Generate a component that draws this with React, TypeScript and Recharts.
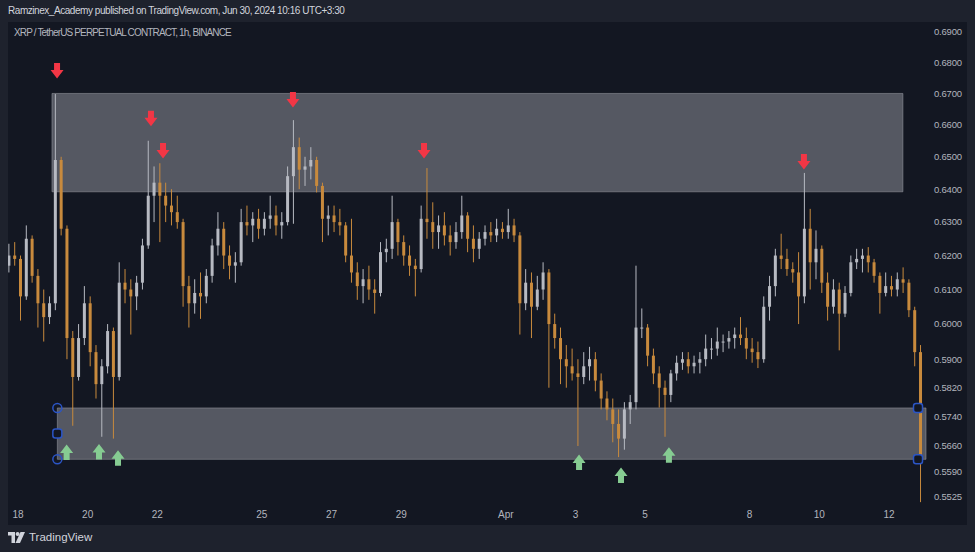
import React from 'react'
import {
  ComposedChart, Bar, XAxis, YAxis, ReferenceArea, ReferenceDot,
} from 'recharts'

// XRPUSDT perp, read off the 1h chart and grouped into 4h candles
// first candle starts Mar 17 16:00, hour 0 = Mar 18 00:00
const firstOpen = 0.617
const highs = [
  0.6235, 0.6240, 0.6200, 0.6290, 0.6260, 0.6160, 0.6100, 0.6080, 0.6698, 0.6500,
  0.6290, 0.5980, 0.6000, 0.6110, 0.6080, 0.5940, 0.5900, 0.6000, 0.5990, 0.6180,
  0.6160, 0.6130, 0.6140, 0.6250, 0.6550, 0.6470, 0.6480, 0.6420, 0.6400, 0.6380,
  0.6310, 0.6140, 0.6130, 0.6150, 0.6160, 0.6250, 0.6330, 0.6300, 0.6230, 0.6210,
  0.6340, 0.6350, 0.6330, 0.6340, 0.6330, 0.6380, 0.6350, 0.6330, 0.6470, 0.6615,
  0.6560, 0.6500, 0.6530, 0.6500, 0.6420, 0.6350, 0.6350, 0.6340, 0.6300, 0.6310,
  0.6180, 0.6160, 0.6170, 0.6130, 0.6240, 0.6250, 0.6380, 0.6310, 0.6260, 0.6230,
  0.6190, 0.6350, 0.6465, 0.6360, 0.6320, 0.6330, 0.6290, 0.6300, 0.6380, 0.6330,
  0.6290, 0.6270, 0.6290, 0.6300, 0.6310, 0.6300, 0.6340, 0.6310, 0.6270, 0.6160,
  0.6150, 0.6140, 0.6180, 0.6160, 0.6030, 0.5990, 0.5940, 0.5930, 0.5900, 0.5920,
  0.5935, 0.5920, 0.5860, 0.5810, 0.5790, 0.5760, 0.5780, 0.5800, 0.6170, 0.6045,
  0.6000, 0.5930, 0.5880, 0.5840, 0.5870, 0.5910, 0.5920, 0.5920, 0.5910, 0.5920,
  0.5970, 0.5960, 0.5990, 0.5970, 0.5980, 0.5990, 0.6020, 0.5990, 0.5960, 0.5950,
  0.6080, 0.6140, 0.6220, 0.6265, 0.6220, 0.6180, 0.6210, 0.6450, 0.6340, 0.6275,
  0.6230, 0.6150, 0.6130, 0.6120, 0.6110, 0.6200, 0.6220, 0.6220, 0.6225, 0.6190,
  0.6150, 0.6150, 0.6140, 0.6150, 0.6165, 0.6130, 0.6050, 0.5940,
]
const lows = [
  0.6150, 0.6170, 0.6010, 0.6070, 0.6120, 0.5990, 0.5950, 0.6000, 0.6040, 0.6260,
  0.5900, 0.5715, 0.5840, 0.5940, 0.5880, 0.5790, 0.5685, 0.5860, 0.5680, 0.5840,
  0.6060, 0.5970, 0.6040, 0.6100, 0.6220, 0.6300, 0.6240, 0.6300, 0.6290, 0.6280,
  0.6050, 0.5990, 0.6030, 0.6015, 0.6060, 0.6120, 0.6200, 0.6160, 0.6130, 0.6120,
  0.6170, 0.6260, 0.6240, 0.6250, 0.6260, 0.6280, 0.6260, 0.6250, 0.6290, 0.6295,
  0.6400, 0.6410, 0.6430, 0.6390, 0.6240, 0.6260, 0.6270, 0.6260, 0.6180, 0.6120,
  0.6070, 0.6060, 0.6070, 0.6030, 0.6080, 0.6180, 0.6190, 0.6200, 0.6170, 0.6140,
  0.6080, 0.6150, 0.6250, 0.6220, 0.6220, 0.6230, 0.6200, 0.6220, 0.6250, 0.6210,
  0.6180, 0.6190, 0.6230, 0.6240, 0.6240, 0.6250, 0.6250, 0.6240, 0.5970, 0.6040,
  0.5960, 0.6040, 0.6070, 0.5820, 0.5930, 0.5830, 0.5820, 0.5840, 0.5660, 0.5830,
  0.5840, 0.5810, 0.5760, 0.5730, 0.5670, 0.5630, 0.5650, 0.5720, 0.5760, 0.5960,
  0.5880, 0.5830, 0.5765, 0.5685, 0.5780, 0.5840, 0.5870, 0.5860, 0.5860, 0.5860,
  0.5880, 0.5900, 0.5910, 0.5920, 0.5930, 0.5930, 0.5940, 0.5900, 0.5890, 0.5875,
  0.5890, 0.6010, 0.6080, 0.6160, 0.6140, 0.6120, 0.6000, 0.6060, 0.6100, 0.6130,
  0.6090, 0.6010, 0.6030, 0.5925, 0.6020, 0.6080, 0.6160, 0.6150, 0.6150, 0.6120,
  0.6030, 0.6080, 0.6080, 0.6080, 0.6090, 0.6020, 0.5880, 0.5510,
]
const closes = [
  0.6200, 0.6190, 0.6080, 0.6250, 0.6140, 0.6060, 0.6020, 0.6060, 0.6490, 0.6280,
  0.5960, 0.5850, 0.5960, 0.6060, 0.5920, 0.5830, 0.5880, 0.5980, 0.5850, 0.6120,
  0.6100, 0.6080, 0.6120, 0.6230, 0.6380, 0.6420, 0.6380, 0.6350, 0.6330, 0.6300,
  0.6110, 0.6060, 0.6090, 0.6080, 0.6140, 0.6230, 0.6280, 0.6200, 0.6170, 0.6180,
  0.6300, 0.6290, 0.6310, 0.6280, 0.6310, 0.6320, 0.6290, 0.6300, 0.6440, 0.6530,
  0.6460, 0.6470, 0.6490, 0.6410, 0.6310, 0.6320, 0.6300, 0.6290, 0.6200, 0.6150,
  0.6110, 0.6130, 0.6100, 0.6090, 0.6210, 0.6220, 0.6300, 0.6240, 0.6200, 0.6170,
  0.6160, 0.6310, 0.6300, 0.6270, 0.6290, 0.6260, 0.6240, 0.6270, 0.6320, 0.6250,
  0.6220, 0.6250, 0.6270, 0.6260, 0.6280, 0.6270, 0.6290, 0.6260, 0.6060, 0.6120,
  0.6050, 0.6100, 0.6150, 0.6000, 0.5960, 0.5900, 0.5880, 0.5860, 0.5850, 0.5880,
  0.5900, 0.5840, 0.5790, 0.5760, 0.5720, 0.5680, 0.5760, 0.5780, 0.5990, 0.5990,
  0.5910, 0.5860, 0.5820, 0.5800, 0.5860, 0.5890, 0.5900, 0.5880, 0.5890, 0.5900,
  0.5930, 0.5930, 0.5950, 0.5950, 0.5960, 0.5970, 0.5960, 0.5930, 0.5920, 0.5900,
  0.6050, 0.6110, 0.6200, 0.6190, 0.6160, 0.6150, 0.6080, 0.6280, 0.6180, 0.6220,
  0.6120, 0.6050, 0.6100, 0.6030, 0.6090, 0.6180, 0.6190, 0.6200, 0.6180, 0.6140,
  0.6090, 0.6110, 0.6100, 0.6130, 0.6120, 0.6040, 0.5920, 0.5625,
]

const dayTicks = [0, 48, 96, 168, 216, 264, 336, 384, 432, 504, 552, 600]
const dayLabels = ['18', '20', '22', '25', '27', '29', 'Apr', '3', '5', '8', '10', '12']
const priceTicks = [
  0.69, 0.68, 0.67, 0.66, 0.65, 0.64, 0.63, 0.62, 0.61, 0.6, 0.59,
  0.582, 0.574, 0.566, 0.559, 0.5525,
]

// drawings (hour, price)
const resistanceZone = [23.4, 609.6, 0.6392, 0.67]
const supportZone = [27.1, 625.5, 0.5624, 0.5764]
const sellArrows = [
  [26.9, 0.6772], [91.6, 0.6619], [99.9, 0.6518],
  [189.4, 0.6679], [279.7, 0.6518], [541.4, 0.6484],
]
const buyArrows = [
  [33.5, 0.5644], [55.8, 0.5645], [68.9, 0.5628],
  [386.5, 0.5617], [415.4, 0.5582], [448.4, 0.5636],
]
const leftHandles = [0.5764, 0.5694, 0.5624]
const rightHandles = [0.5764, 0.5624]

const candles = closes.map((close, i) => {
  const open = i === 0 ? firstOpen : closes[i - 1]
  return { t: -6 + 4 * i, open, close, high: highs[i], low: lows[i], range: [lows[i], highs[i]] }
})

const BG = '#131722'
const FRAME = '#1e222d'
const TEXT = '#b2b5be'
const UP = '#b7bac2'
const DOWN = '#c88a3d'
const W = 959
const H = 503
const X_DOMAIN = [-6.89, 625.5]
const Y_DOMAIN = [0.55077, 0.6933]

function Candle(props: any) {
  const { x, y, width, height, payload } = props
  if (x == null || y == null || !payload) return null
  const top = Math.min(y, y + height)
  const h = Math.abs(height)
  const { open, close, high, low } = payload
  const span = Math.log(high) - Math.log(low)
  const py = (p: number) => top + (span ? ((Math.log(high) - Math.log(p)) / span) * h : 0)
  const color = close >= open ? UP : DOWN
  const cx = x + width / 2
  const bTop = py(Math.max(open, close))
  const bBot = py(Math.min(open, close))
  return (
    <g>
      <line x1={cx} x2={cx} y1={top} y2={top + h} stroke={color} strokeWidth={1} />
      <rect x={cx - 1.5} y={bTop} width={3} height={Math.max(1, bBot - bTop)} fill={color} />
    </g>
  )
}

function DownArrow({ cx, cy }: any) {
  if (cx == null) return null
  return (
    <path
      d={`M${cx - 3},${cy - 8} h6 v7 h3.5 l-6.5,8.5 l-6.5,-8.5 h3.5 z`}
      fill="#f23645"
    />
  )
}

function UpArrow({ cx, cy }: any) {
  if (cx == null) return null
  return (
    <path
      d={`M${cx - 3},${cy + 8} h6 v-7 h3.5 l-6.5,-8.5 l-6.5,8.5 h3.5 z`}
      fill="#86cc92"
    />
  )
}

function Handle({ cx, cy, square }: any) {
  if (cx == null) return null
  if (square) {
    return <rect x={cx - 4.5} y={cy - 4.5} width={9} height={9} rx={2.5} fill={BG} stroke="#2b55c6" strokeWidth={1.5} />
  }
  return <circle cx={cx} cy={cy} r={4.5} fill="none" stroke="#2b55c6" strokeWidth={1.5} />
}

export default function App() {
  const font = '"Liberation Sans", Arial, sans-serif'
  const layer: React.CSSProperties = { position: 'absolute', left: 0, top: 0 }
  return (
    <div style={{ position: 'absolute', left: 0, top: 0, width: 975, height: 552, background: FRAME, fontFamily: font, overflow: 'hidden' }}>
      <div style={{ position: 'absolute', left: 8, top: 5, fontSize: 10, letterSpacing: -0.45, color: '#d1d4dc', whiteSpace: 'nowrap' }}>
        Ramzinex_Academy published on TradingView.com, Jun 30, 2024 10:16 UTC+3:30
      </div>

      <div style={{ position: 'absolute', left: 8, top: 22, width: W, height: H, background: BG }}>
        {/* zones go in their own chart underneath so the candles stay on top */}
        <div style={layer}>
          <ComposedChart width={W} height={H} data={candles} margin={{ top: 0, right: 0, left: 0, bottom: 0 }}>
            <XAxis dataKey="t" type="number" domain={X_DOMAIN} allowDataOverflow
              ticks={dayTicks} tick={false} tickLine={false} axisLine={false} height={22} />
            <YAxis orientation="right" scale="log" domain={Y_DOMAIN} allowDataOverflow
              ticks={priceTicks} tick={false} tickLine={false} axisLine={false} width={41} />
            <ReferenceArea
              x1={resistanceZone[0]} x2={resistanceZone[1]}
              y1={resistanceZone[2]} y2={resistanceZone[3]}
              fill="rgb(130,132,142)" fillOpacity={0.6}
              stroke="rgba(160,162,170,0.5)" strokeWidth={1}
            />
            <ReferenceArea
              x1={supportZone[0]} x2={supportZone[1]}
              y1={supportZone[2]} y2={supportZone[3]}
              fill="rgb(130,132,142)" fillOpacity={0.6}
              stroke="rgba(160,162,170,0.5)" strokeWidth={1}
            />
          </ComposedChart>
        </div>

        <div style={layer}>
          <ComposedChart width={W} height={H} data={candles} margin={{ top: 0, right: 0, left: 0, bottom: 0 }}>
            <XAxis
              dataKey="t"
              type="number"
              domain={X_DOMAIN}
              allowDataOverflow
              ticks={dayTicks}
              tickFormatter={(v) => dayLabels[dayTicks.indexOf(v)] ?? ''}
              tick={{ fontSize: 10, fill: TEXT }}
              tickLine={false}
              axisLine={false}
              height={22}
            />
            <YAxis
              orientation="right"
              scale="log"
              domain={Y_DOMAIN}
              allowDataOverflow
              ticks={priceTicks}
              interval={0}
              tickFormatter={(v) => Number(v).toFixed(4)}
              tick={{ fontSize: 9.5, fill: TEXT, letterSpacing: -0.2 }}
              tickLine={false}
              axisLine={false}
              width={41}
            />
            <Bar dataKey="range" barSize={5} shape={Candle} isAnimationActive={false} />
            {sellArrows.map(([t, p], i) => (
              <ReferenceDot key={'s' + i} x={t} y={p} r={1} shape={DownArrow} />
            ))}
            {buyArrows.map(([t, p], i) => (
              <ReferenceDot key={'b' + i} x={t} y={p} r={1} shape={UpArrow} />
            ))}
            {leftHandles.map((p, i) => (
              <ReferenceDot key={'l' + i} x={supportZone[0]} y={p} r={1}
                shape={(props: any) => <Handle {...props} square={i === 1} />} />
            ))}
            {rightHandles.map((p, i) => (
              <ReferenceDot key={'r' + i} x={620} y={p} r={1}
                shape={(props: any) => <Handle {...props} square />} />
            ))}
          </ComposedChart>
        </div>

        <div style={{ position: 'absolute', left: 6, top: 5, fontSize: 10, letterSpacing: -0.85, color: TEXT, whiteSpace: 'nowrap' }}>
          XRP / TetherUS PERPETUAL CONTRACT, 1h, BINANCE
        </div>
      </div>

      <div style={{ position: 'absolute', left: 8, top: 531, display: 'flex', alignItems: 'center', gap: 4, color: '#d1d4dc' }}>
        <svg width={17} height={11} viewBox="0 0 17 11">
          <path d="M0,0 h7 v11 h-3.5 v-7.5 h-3.5 z" fill="#d1d4dc" />
          <circle cx={9.6} cy={2} r={2} fill="#d1d4dc" />
          <path d="M12.5,0 h4.5 l-5,11 h-4.5 z" fill="#d1d4dc" />
        </svg>
        <span style={{ fontSize: 11.5 }}>TradingView</span>
      </div>
    </div>
  )
}
